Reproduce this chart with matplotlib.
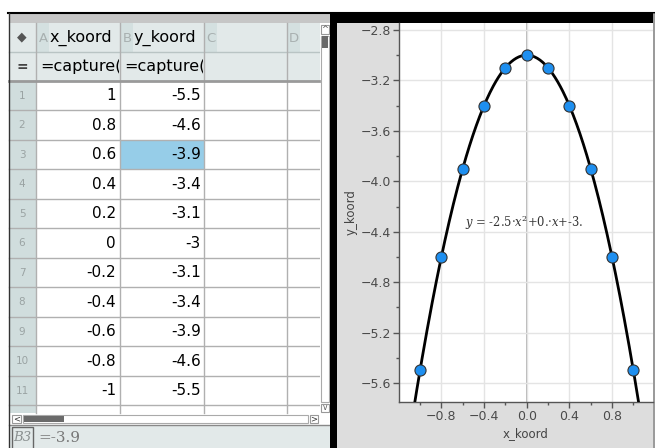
import numpy as np
import matplotlib
matplotlib.use('Agg')
import matplotlib.pyplot as plt
from matplotlib.patches import Rectangle
from matplotlib.transforms import Bbox
from matplotlib.ticker import MultipleLocator, FixedLocator, FuncFormatter

# ---------------- data ----------------
x_koord = [1, 0.8, 0.6, 0.4, 0.2, 0, -0.2, -0.4, -0.6, -0.8, -1]
y_koord = [-5.5, -4.6, -3.9, -3.4, -3.1, -3, -3.1, -3.4, -3.9, -4.6, -5.5]
fit_a, fit_b, fit_c = -2.5, 0.0, -3.0
col_letters = ['A', 'B', 'C', 'D']
col_names = ['x_koord', 'y_koord']
formulas = ['=capture(x', '=capture(y']
selected_ref = 'B3'
selected_value = '=-3.9'
x_ticks = [-0.8, -0.4, 0.0, 0.4, 0.8]
y_ticks = [-2.8, -3.2, -3.6, -4.0, -4.4, -4.8, -5.2, -5.6]
x_label = 'x_koord'
y_label = 'y_koord'

plt.rcParams['mathtext.fontset'] = 'dejavuserif'

W, H = 655, 448
fig = plt.figure(figsize=(W / 100, H / 100), dpi=100)

bg = fig.add_axes([0, 0, 1, 1])
bg.set_xlim(0, W)
bg.set_ylim(H, 0)
bg.axis('off')


def rect(x0, y0, x1, y1, fc, ec='none', lw=0, z=1):
    bg.add_patch(Rectangle((x0, y0), x1 - x0, y1 - y0, facecolor=fc,
                           edgecolor=ec, linewidth=lw, zorder=z))


def ti(v):
    return f"{v:g}"


# ---------- spreadsheet panel ----------
rect(0, 0, W, H, 'white', z=0)
rect(9, 14, 330, 23, '#c6c6c6')
rect(9, 23, 320, 81, '#e2e9e9')
col_edges = [36, 120, 204, 287, 319]
row_top = 81
row_h = 29.5
n_rows = len(x_koord)
table_bottom = 413
rect(9, row_top, 36, table_bottom, '#d0dddd')
rect(36, row_top, 319, table_bottom, 'white')
# selected cell B3
sel_col = col_letters.index(selected_ref[0])
sel_row = int(selected_ref[1:]) - 1
rect(col_edges[sel_col], row_top + sel_row * row_h,
     col_edges[sel_col + 1], row_top + (sel_row + 1) * row_h, '#96cde8', z=1.5)

# header letter boxes
for i, L in enumerate(col_letters):
    x0 = col_edges[i]
    rect(x0 + 0.5, 23, x0 + 13, 52, '#d4e0e0', z=1.2)
    bg.text(x0 + 7, 38, L, fontsize=9.5, color='#a8b0b0', ha='center', va='center', zorder=3)
bg.text(22, 37, '\u25c6', fontsize=9, color='#555555', ha='center', va='center',
        rotation=0, zorder=3)
for i, name in enumerate(col_names):
    bg.text(col_edges[i] + 14, 38, name, fontsize=11.5, color='black',
            ha='left', va='center', zorder=3)
bg.text(22, 67, '=', fontsize=10, color='#444444', ha='center', va='center', zorder=3,
        fontweight='bold')
for i, f in enumerate(formulas):
    t = bg.text(col_edges[i] + 4, 67, f, fontsize=11.5, color='black',
                ha='left', va='center', zorder=3, clip_on=True)
    p0 = bg.transData.transform((col_edges[i] + 1, 81))
    p1 = bg.transData.transform((col_edges[i + 1] - 1, 52))
    t.set_clip_box(Bbox([p0, p1]))

# grid lines
bg.plot([9, 319], [52, 52], color='#b9c4c4', lw=1, zorder=2)
for r in range(1, n_rows + 1):
    y = row_top + r * row_h
    bg.plot([9, 319], [y, y], color='#b0b0b0', lw=1, zorder=2)
bg.plot([9, 319], [row_top, row_top], color='#9a9a9a', lw=2, zorder=2.1)
for x in col_edges[:-1]:
    bg.plot([x, x], [23, table_bottom], color='#b0b0b0', lw=1, zorder=2)

# values
for r in range(n_rows):
    yc = row_top + (r + 0.5) * row_h
    bg.text(22, yc, str(r + 1), fontsize=7.5, color='#9aa3a3', ha='center',
            va='center', zorder=3)
    bg.text(col_edges[1] - 4, yc, ti(x_koord[r]), fontsize=11, color='black',
            ha='right', va='center', zorder=3)
    bg.text(col_edges[2] - 3, yc, ti(y_koord[r]), fontsize=11, color='black',
            ha='right', va='center', zorder=3)

# vertical scrollbar
rect(320, 23, 330, table_bottom, 'white', z=2)
rect(321, 25, 329, 34, 'white', '#999999', 0.8, z=2.2)
bg.text(325, 29.5, '^', fontsize=6, color='#555555', ha='center', va='center', zorder=3)
rect(322, 36, 328, 48, '#6a6a6a', z=2.3)
rect(321, 36, 329, 402, 'none', '#aaaaaa', 0.8, z=2.2)
rect(321, 404, 329, 412, 'white', '#999999', 0.8, z=2.2)
bg.text(325, 407.5, 'v', fontsize=5.5, color='#555555', ha='center', va='center', zorder=3)

# horizontal scrollbar area
rect(9, table_bottom, 330, 425, 'white', z=1)
rect(12, 415, 21, 423, 'white', '#999999', 0.8, z=2.2)
bg.text(16.5, 419, '<', fontsize=6, color='#333333', ha='center', va='center', zorder=3)
rect(23, 415, 308, 423, 'white', '#aaaaaa', 0.8, z=2.2)
rect(24, 416, 64, 422, '#6a6a6a', z=2.3)
rect(310, 415, 318, 423, 'white', '#999999', 0.8, z=2.2)
bg.text(314, 419, '>', fontsize=6, color='#333333', ha='center', va='center', zorder=3)

# formula bar
rect(9, 425, 330, H, '#e2e9e9', z=1)
bg.plot([9, 330], [425, 425], color='#888888', lw=1, zorder=2)
rect(12, 427, 33, H + 2, 'none', '#666666', 1, z=2.2)
bg.text(22.5, 437.5, selected_ref, fontsize=9.5, color='#8a9090', family='DejaVu Serif',
        style='italic', ha='center', va='center', zorder=3)
bg.text(38, 437.5, selected_value, fontsize=11, color='#777777', family='DejaVu Serif',
        ha='left', va='center', zorder=3)

# outer borders
bg.plot([8, W], [13.5, 13.5], color='black', lw=1.5, zorder=4)
bg.plot([9, 9], [13.5, H], color='#333333', lw=1, zorder=4)

# ---------- graph panel ----------
rect(330, 14, 336.5, H, 'black', z=3)
rect(336.5, 14, 653, 23, 'black', z=3)
rect(336.5, 23, 653, H, '#dddddd', z=1)
bg.plot([653.5, 653.5], [14, H], color='#888888', lw=1.2, zorder=4)

# plot axes
px_l, px_r, px_t, px_b = 399, 653, 23, 402
ax = fig.add_axes([px_l / W, 1 - px_b / H, (px_r - px_l) / W, (px_b - px_t) / H])
ax.set_facecolor('white')
xlim = (-1.197, 1.184)
ylim = (-5.75, -2.745)
ax.set_xlim(*xlim)
ax.set_ylim(*ylim)
ax.xaxis.set_major_locator(FixedLocator(x_ticks))
ax.yaxis.set_major_locator(FixedLocator(y_ticks))
ax.xaxis.set_minor_locator(MultipleLocator(0.2))
ax.yaxis.set_minor_locator(MultipleLocator(0.2))
fmt = FuncFormatter(lambda v, p: f"{v:.1f}".replace('-', '\u2212'))
ax.xaxis.set_major_formatter(fmt)
ax.yaxis.set_major_formatter(fmt)
ax.grid(True, which='major', color='#e4e4e4', lw=1, zorder=0)
ax.axvline(0, color='#b0b0b0', lw=1.3, zorder=0.5)
for s in ['top', 'right']:
    ax.spines[s].set_visible(False)
for s in ['left', 'bottom']:
    ax.spines[s].set_color('#555555')
    ax.spines[s].set_linewidth(1)
ax.tick_params(which='major', length=4, width=1, color='#555555', labelsize=9,
               labelcolor='#4a4a4a', pad=2)
ax.tick_params(which='minor', length=2.5, width=1, color='#555555')

xs = np.linspace(xlim[0], xlim[1], 300)
ax.plot(xs, fit_a * xs ** 2 + fit_b * xs + fit_c, color='black', lw=2, zorder=3)
ax.scatter(x_koord, y_koord, s=64, facecolor='#1e8ff0', edgecolor='#333333',
           linewidth=0.8, zorder=4)

eq = '$y$ = -2.5\u00b7$x^2$+0.\u00b7$x$+-3.'
ax.text(-0.58, -4.33, eq, fontsize=8.3, family='DejaVu Serif', color='#333333',
        ha='left', va='center', zorder=5)

ax.set_xlabel(x_label, fontsize=8.5, color='#444444', labelpad=3)
ax.set_ylabel(y_label, fontsize=8.5, color='#444444', labelpad=2)

fig.savefig('out.png', dpi=100)
